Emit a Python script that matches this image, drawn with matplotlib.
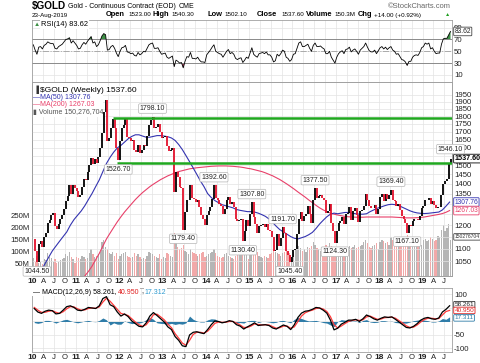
import numpy as np
import matplotlib
matplotlib.use("Agg")
import matplotlib.pyplot as plt
from matplotlib.patches import Rectangle
from matplotlib.ticker import NullLocator

plt.rcParams['font.family'] = ['Liberation Sans', 'DejaVu Sans']

# semi-monthly closes, Jan 2010 .. 23-Aug-2019 (two per month)
close = [
    1138, 1090, 1044.5, 1120, 1130, 1105, 1150, 1165, 1210, 1225, 1245, 1255,
    1195, 1185, 1205, 1230, 1245, 1275, 1315, 1340, 1395, 1350, 1395, 1380,   # 2010
    1365, 1335, 1345, 1385, 1425, 1420, 1465, 1500, 1540, 1505, 1535, 1510,
    1545, 1600, 1690, 1830, 1910, 1640, 1660, 1725, 1785, 1720, 1600, 1526.7,  # 2011
    1640, 1720, 1740, 1785, 1665, 1660, 1640, 1650, 1590, 1575, 1620, 1570,
    1590, 1620, 1610, 1670, 1740, 1775, 1798.1, 1720, 1730, 1750, 1700, 1660,  # 2012
    1665, 1670, 1610, 1580, 1590, 1600, 1360, 1465, 1435, 1385, 1380, 1179.4,
    1260, 1320, 1320, 1395, 1330, 1325, 1310, 1320, 1285, 1245, 1230, 1200,   # 2013
    1245, 1265, 1285, 1325, 1392.6, 1330, 1320, 1300, 1290, 1250, 1275, 1320,
    1335, 1300, 1310, 1285, 1230, 1220, 1225, 1230, 1130.4, 1175, 1225, 1195,  # 2014
    1250, 1307.8, 1235, 1205, 1165, 1195, 1200, 1205, 1190, 1205, 1180, 1175,
    1150, 1090, 1095, 1160, 1110, 1145, 1191.7, 1165, 1090, 1075, 1045.4, 1065,  # 2015
    1095, 1100, 1160, 1230, 1260, 1220, 1240, 1250, 1290, 1250, 1210, 1320,
    1377.5, 1330, 1340, 1345, 1330, 1320, 1255, 1265, 1300, 1210, 1175, 1124.3,  # 2016
    1175, 1210, 1220, 1235, 1205, 1250, 1255, 1285, 1225, 1265, 1280, 1245,
    1215, 1265, 1270, 1290, 1350, 1320, 1290, 1280, 1280, 1295, 1250, 1275,   # 2017
    1335, 1350, 1315, 1350, 1325, 1345, 1369.4, 1320, 1315, 1290, 1300, 1270,
    1240, 1230, 1210, 1167.1, 1200, 1195, 1220, 1230, 1230, 1225, 1240, 1280,  # 2018
    1290, 1320, 1320, 1330, 1300, 1315, 1295, 1280, 1285, 1285, 1345, 1400,
    1415, 1425, 1510, 1537.6,                                                # 2019
]

volume = [
    75, 60, 85, 55, 60, 50, 70, 65, 95, 80, 75, 60, 70, 55, 60, 65, 70, 75, 90, 85, 100, 80, 70, 55,
    80, 75, 70, 85, 80, 70, 75, 95, 110, 90, 80, 85, 90, 100, 140, 150, 120, 110, 95, 90, 100, 85, 95, 70,
    85, 90, 95, 100, 85, 80, 75, 80, 95, 85, 90, 80, 70, 75, 70, 85, 100, 95, 90, 85, 80, 75, 90, 70,
    80, 75, 95, 90, 85, 80, 180, 140, 120, 110, 115, 130, 105, 100, 90, 110, 100, 95, 90, 85, 90, 95, 100, 80,
    85, 90, 95, 100, 110, 95, 85, 80, 75, 80, 90, 95, 85, 80, 75, 70, 85, 90, 95, 100, 115, 105, 95, 70,
    100, 110, 95, 90, 100, 85, 80, 75, 85, 80, 75, 90, 95, 110, 100, 95, 90, 85, 95, 100, 110, 105, 95, 80,
    100, 110, 130, 125, 115, 105, 110, 100, 120, 115, 125, 140, 130, 115, 110, 105, 100, 110, 130, 115, 135, 125, 120, 100,
    110, 115, 120, 105, 115, 110, 120, 125, 115, 120, 130, 115, 120, 125, 130, 140, 150, 135, 120, 115, 125, 130, 135, 110,
    140, 150, 145, 135, 140, 130, 160, 150, 140, 135, 145, 150, 140, 135, 150, 170, 155, 145, 150, 160, 145, 150, 155, 130,
    150, 155, 145, 150, 160, 155, 145, 150, 165, 160, 190, 210, 185, 200, 215, 150.3,
]

rsi = [
    61, 52, 45, 57, 58, 54, 60, 62, 66, 64, 63, 63, 55, 54, 58, 60, 62, 66, 70, 71, 73, 64, 68, 64,
    60, 54, 55, 61, 65, 62, 67, 71, 75, 64, 66, 58, 61, 68, 76, 80, 78, 52, 53, 58, 60, 55, 47, 41,
    50, 56, 57, 60, 49, 48, 46, 47, 43, 42, 48, 44, 46, 50, 49, 55, 61, 63, 64, 55, 55, 56, 50, 45,
    46, 47, 40, 38, 40, 42, 24, 35, 33, 30, 31, 22, 33, 41, 40, 48, 38, 38, 37, 40, 35, 32, 32, 31,
    44, 48, 52, 57, 61, 50, 48, 46, 45, 40, 45, 50, 53, 46, 48, 45, 38, 36, 38, 39, 31, 35, 40, 38,
    47, 56, 45, 42, 40, 46, 47, 48, 46, 49, 44, 44, 40, 32, 34, 45, 42, 46, 52, 50, 40, 38, 33, 36,
    45, 46, 55, 64, 66, 58, 58, 60, 62, 55, 50, 60, 64, 58, 58, 59, 56, 54, 46, 46, 50, 40, 35, 30,
    40, 46, 49, 51, 46, 53, 54, 57, 49, 52, 54, 50, 45, 52, 55, 58, 64, 57, 51, 49, 49, 52, 46, 51,
    56, 58, 54, 57, 53, 56, 58, 52, 50, 45, 46, 41, 36, 35, 32, 26, 33, 33, 40, 43, 44, 43, 48, 56,
    58, 64, 62, 64, 54, 56, 50, 46, 47, 47, 62, 71, 72, 72, 78, 83.62,
]

# monthly moving averages (MA200 starts Mar 2011)
ma50 = [
    985, 995, 1015, 1040, 1065, 1090, 1110, 1130, 1150, 1170, 1200, 1225,
    1245, 1265, 1290, 1320, 1350, 1385, 1420, 1465, 1510, 1545, 1575, 1600,
    1615, 1635, 1655, 1670, 1680, 1680, 1672, 1665, 1665, 1670, 1675, 1675,
    1672, 1668, 1660, 1645, 1620, 1590, 1555, 1520, 1485, 1450, 1415, 1385,
    1350, 1330, 1315, 1305, 1295, 1290, 1285, 1280, 1272, 1268, 1265, 1262,
    1262, 1260, 1255, 1248, 1240, 1228, 1212, 1195, 1180, 1170, 1160, 1150,
    1143, 1140, 1145, 1150, 1158, 1168, 1185, 1205, 1222, 1238, 1250, 1255,
    1252, 1255, 1258, 1258, 1255, 1252, 1250, 1250, 1252, 1262, 1270, 1278,
    1284, 1290, 1295, 1297, 1295, 1290, 1282, 1274, 1266, 1260, 1256, 1254,
    1253, 1254, 1256, 1258, 1260, 1270, 1288, 1307.76,
]
ma200 = [
    993, 1010, 1030, 1055, 1080, 1110, 1140, 1165, 1190, 1215,
    1238, 1260, 1280, 1300, 1320, 1338, 1355, 1370, 1385, 1398, 1410, 1422,
    1432, 1442, 1450, 1458, 1465, 1470, 1475, 1480, 1483, 1486, 1488, 1490,
    1492, 1494, 1495, 1496, 1496, 1496, 1495, 1494, 1492, 1490, 1487, 1483,
    1480, 1475, 1470, 1465, 1458, 1450, 1442, 1432, 1422, 1410, 1398, 1385,
    1372, 1358, 1345, 1332, 1318, 1305, 1292, 1280, 1270, 1262, 1255, 1250,
    1246, 1243, 1240, 1238, 1237, 1236, 1236, 1236, 1237, 1237, 1237, 1237,
    1237, 1237, 1237, 1237, 1236, 1235, 1234, 1233, 1233, 1233, 1234, 1235,
    1237, 1240, 1243, 1246, 1249, 1253, 1259, 1267.03,
]
ma200_start = 14  # month index of Mar 2011

macd = [
    48, 35, 30, 38, 42, 40, 28, 30, 42, 55, 58, 52,
    42, 40, 45, 52, 50, 48, 58, 85, 92, 62, 55, 35,
    20, 28, 18, 2, -8, -18, -20, -5, 20, 33, 22, 10,
    -2, -20, -30, -56, -70, -90, -93, -50, -40, -38, -42, -45,
    -30, -12, 2, 0, -5, -2, 3, 0, -12, -17, -28, -20,
    -13, -5, -15, -13, -12, -15, -24, -28, -20, -13, -18, -30,
    -12, 15, 31, 38, 40, 45, 52, 50, 42, 31, 5, -31,
    -25, -10, -3, 5, 5, 8, 0, 10, 24, 18, 10, 5,
    12, 17, 15, 17, 8, -2, -12, -22, -24, -18, -8, 5,
    12, 15, 10, 8, 13, 35, 45, 58.261,
]
signal = [
    52, 42, 34, 34, 38, 40, 34, 30, 36, 47, 55, 54,
    47, 42, 43, 48, 50, 49, 54, 72, 86, 75, 60, 45,
    30, 26, 22, 10, -2, -12, -18, -12, 5, 25, 27, 17,
    6, -10, -23, -45, -62, -80, -88, -70, -48, -40, -40, -43,
    -36, -22, -7, -2, -3, -3, 0, 0, -6, -13, -22, -22,
    -17, -9, -11, -13, -12, -13, -19, -25, -23, -17, -17, -25,
    -20, 0, 20, 32, 38, 42, 48, 50, 46, 37, 18, -12,
    -24, -17, -8, 0, 4, 6, 4, 6, 17, 20, 14, 8,
    9, 14, 15, 16, 12, 3, -6, -16, -22, -21, -13, -2,
    7, 12, 12, 10, 11, 24, 37, 40.950,
]

# labelled swing highs / lows (index into close)
ann_idx = [2, 47, 66, 83, 100, 116, 121, 138, 142, 156, 167, 198, 207, 231]
ann_val = [1044.5, 1526.7, 1798.1, 1179.4, 1392.6, 1130.4, 1307.8, 1191.7,
           1045.4, 1377.5, 1124.3, 1369.4, 1167.1, 1546.1]
ann_side = ['lo', 'lo', 'hi', 'lo', 'hi', 'lo', 'hi', 'hi', 'lo', 'hi', 'lo', 'hi', 'lo', 'hi']

green_levels = [1790, 1512]
green_start = [2011.85, 2011.96]

price_ticks = list(range(1050, 2000, 50))
price_hidden = [1150, 1250, 1300, 1550]   # covered by the value boxes
vol_ticks = [50, 100, 150, 200, 250]
rsi_ticks = [10, 30, 50, 70, 90]
macd_ticks = [-100, -50, 0, 50, 100]
macd_hidden = [0, 50]

# ---------------------------------------------------------------
W, H = 480, 363
fig = plt.figure(figsize=(4.8, 3.63), dpi=100)


def rect(x0, y0, x1, y1):
    return [x0 / W, 1 - y1 / H, (x1 - x0) / W, (y1 - y0) / H]


def px(x):
    return x / W


def py(y):
    return 1 - y / H


close_a = np.array(close)
t = 2010 + (np.arange(len(close)) + 0.5) / 24
tm = 2010 + (np.arange(len(ma50)) + 0.5) / 12
tm200 = 2010 + (np.arange(len(ma200)) + ma200_start + 0.5) / 12
prev = np.r_[close_a[0], close_a[:-1]]
up = close_a >= prev
XL = (2009.99, 2019.68)
quarters = 2010 + np.arange(0, 39) * 0.25
qlabels = [str(10 + k // 4) if k % 4 == 0 else "AJO"[k % 4 - 1] for k in range(39)]

RED = '#e3122d'
BLUE = '#3333b0'
MARED = '#e8406a'
GRID = '#e3e3e3'
SPINE = '#a0a0a0'


def style(ax):
    for s in ax.spines.values():
        s.set_color(SPINE)
        s.set_linewidth(0.6)
    ax.set_xlim(*XL)
    ax.set_xticks(quarters)
    ax.tick_params(length=0, labelsize=5.6, colors='#222222', pad=1.5)
    ax.grid(axis='x', color=GRID, lw=0.5)
    ax.set_axisbelow(True)


def xlabels(ax):
    ax.set_xticklabels(qlabels)
    for k, lab in enumerate(ax.get_xticklabels()):
        if k % 4 == 0:
            lab.set_fontweight('bold')
            lab.set_fontsize(6)


def side_box(ax, val, text, color, ec, weight='normal', size=5.0):
    ax.annotate(text, xy=(1.0, val), xycoords=('axes fraction', 'data'),
                xytext=(2.5, 0), textcoords='offset pixels', ha='left', va='center',
                fontsize=size, color=color, weight=weight,
                bbox=dict(boxstyle='round,pad=0.12', fc='white', ec=ec, lw=0.6),
                annotation_clip=False, zorder=6)


# ---------------- RSI panel ----------------
ax_rsi = fig.add_axes(rect(32, 20, 452, 82))
style(ax_rsi)
ax_rsi.set_xticklabels([])
rsi_a = np.array(rsi)
ax_rsi.set_ylim(-2, 103)
ax_rsi.yaxis.tick_right()
ax_rsi.set_yticks(rsi_ticks)
ax_rsi.grid(axis='y', color=GRID, lw=0.5)
ax_rsi.axhline(70, color='#8a8a8a', lw=0.7)
ax_rsi.axhline(30, color='#8a8a8a', lw=0.7)
ax_rsi.axhline(50, color='#aaaaaa', lw=0.7, ls='-.')
ax_rsi.fill_between(t, rsi_a, 70, where=rsi_a > 70, interpolate=True, color='#3d8f45', lw=0)
ax_rsi.fill_between(t, rsi_a, 30, where=rsi_a < 30, interpolate=True, color='#b03a5b', lw=0)
ax_rsi.plot(t, rsi_a, color='black', lw=0.6)
side_box(ax_rsi, rsi[-1], f"{rsi[-1]:.2f}", '#222222', '#444444', size=4.8)

# ---------------- price / volume panel ----------------
ax_vol = fig.add_axes(rect(32, 82, 452, 276))
style(ax_vol)
xlabels(ax_vol)
vol_colors = np.where(up, '#b5b5b5', '#f2a9a9')
ax_vol.bar(t, volume, width=0.7 / 24, color=vol_colors, lw=0)
ax_vol.set_ylim(0, 805)
ax_vol.set_yticks(vol_ticks)
ax_vol.set_yticklabels([f"{v}M" for v in vol_ticks])

ax_px = ax_vol.twinx()
ax_px.set_yscale('log')
ax_px.set_ylim(993, 2045)
ax_px.set_xlim(*XL)
ax_px.yaxis.set_minor_locator(NullLocator())
ax_px.set_yticks(price_ticks)
ax_px.set_yticklabels(['' if v in price_hidden else str(v) for v in price_ticks])
ax_px.tick_params(length=0, labelsize=5.6, colors='#222222', pad=1.5)
for s in ax_px.spines.values():
    s.set_color(SPINE)
    s.set_linewidth(0.6)
ax_px.grid(axis='y', color=GRID, lw=0.5)
ax_px.set_axisbelow(True)

ax_px.plot(tm200, ma200, color=MARED, lw=0.8, zorder=3)
ax_px.plot(tm, ma50, color=BLUE, lw=0.8, zorder=3)
ax_px.vlines(t[up], prev[up], close_a[up], color='black', lw=1.3, zorder=4)
ax_px.vlines(t[~up], prev[~up], close_a[~up], color=RED, lw=1.3, zorder=4)
ax_px.hlines(green_levels, green_start, XL[1], colors='#1fa81f', lw=1.8, zorder=5)

for i, v, side in zip(ann_idx, ann_val, ann_side):
    off = 8 if side == 'hi' else -9
    ax_px.annotate(f"{v:.2f}", (t[i], v), xytext=(0, off), textcoords='offset pixels',
                   ha='center', va='center', fontsize=5, color='#222222', zorder=7,
                   bbox=dict(boxstyle='round,pad=0.18', fc='white', ec='#b5b5b5', lw=0.5),
                   annotation_clip=False)

side_box(ax_px, close[-1], f"{close[-1]:.2f}", 'black', 'black', weight='bold', size=5.1)
side_box(ax_px, ma50[-1], f"{ma50[-1]:.2f}", BLUE, BLUE, size=4.8)
side_box(ax_px, ma200[-1], f"{ma200[-1]:.2f}", MARED, MARED, size=4.8)
ax_vol.annotate("150276704", xy=(1.0, volume[-1] * 1.08), xycoords=('axes fraction', 'data'),
                xytext=(2.5, 0), textcoords='offset pixels', ha='left', va='center',
                fontsize=3.6, color='#333333', annotation_clip=False, zorder=6,
                bbox=dict(boxstyle='round,pad=0.15', fc='white', ec='#444444', lw=0.6))

# ---------------- MACD panel ----------------
ax_macd = fig.add_axes(rect(32, 288, 452, 352))
style(ax_macd)
xlabels(ax_macd)
macd_a = np.array(macd)
sig_a = np.array(signal)
ax_macd.set_ylim(-113, 124)
ax_macd.yaxis.tick_right()
ax_macd.set_yticks(macd_ticks)
ax_macd.set_yticklabels(['' if v in macd_hidden else str(v) for v in macd_ticks])
ax_macd.grid(axis='y', color=GRID, lw=0.5)
ax_macd.fill_between(tm, macd_a - sig_a, 0, color='#2e7ca8', lw=0)
ax_macd.plot(tm, sig_a, color='#ff3b3b', lw=0.9)
ax_macd.plot(tm, macd_a, color='black', lw=0.9)
side_box(ax_macd, macd[-1] + 4, f"{macd[-1]:.3f}", '#222222', '#333333', size=4.6)
side_box(ax_macd, signal[-1], f"{signal[-1]:.3f}", '#e02020', '#e02020', size=4.6)
side_box(ax_macd, macd[-1] - signal[-1] - 4, f"{macd[-1] - signal[-1]:.3f}", '#2e7ca8', '#2e7ca8', size=4.6)

# ---------------- header and legends ----------------
fig.canvas.draw()
rend = fig.canvas.get_renderer()


def row(items, y, gap=2, **common):
    # place texts left to right, never letting one run into the next
    right = 0
    for x, s, kw in items:
        opts = dict(common)
        opts.update(kw)
        tx = fig.text(px(max(x, right + gap)), py(y), s, va='center', **opts)
        right = tx.get_window_extent(rend).x1


B = {'weight': 'bold', 'fontsize': 5.4}
N = {'fontsize': 4.5}
row([(32, "$GOLD", {'weight': 'bold', 'fontsize': 7.2}),
     (64, "Gold - Continuous Contract (EOD)", {'fontsize': 5.0}),
     (179, "CME", {'fontsize': 5.0})], 6.5)
fig.text(px(451), py(6), "\u00a9StockCharts.com", fontsize=5.4, color='#666666', ha='right', va='center')

row([(32, "23-Aug-2019", N), (106, "Open", B), (128, "1523.00", N),
     (149, "High", B), (167, "1540.30", N), (207, "Low", B),
     (223, "1502.10", N), (257, "Close", B), (281, "1537.60", N),
     (303, "Volume", B), (334, "150.3M", N), (355, "Chg", B),
     (372, "+14.00 (+0.92%)", N), (445, "\u25b2", {'fontsize': 3.8, 'color': '#1f9e1f'})], 15)

row([(34, "\u25b2", {'fontsize': 4.5, 'color': '#3d8f45'}),
     (40, "RSI(14) 83.62", {'fontsize': 5.4,
                            'bbox': dict(boxstyle='square,pad=0.1', fc='white', ec='none')})], 24.5, gap=1)

fig.add_artist(Rectangle((px(32.5), py(117)), (103 - 32.5) / W, 34 / H,
                         transform=fig.transFigure, fc='white', ec='none', zorder=1))
row([(33.5, "\u2590", {'fontsize': 5, 'color': '#333333'}),
     (39, "$GOLD (Weekly) 1537.60", {'fontsize': 6,
                                     'bbox': dict(boxstyle='square,pad=0.1', fc='white', ec='none')})], 90, gap=1)
fig.text(px(33), py(97.5), "\u2014MA(50) 1307.76", fontsize=5, color=BLUE, va='center')
fig.text(px(33), py(105), "\u2014MA(200) 1267.03", fontsize=5, color=MARED, va='center')
fig.text(px(33), py(112.5), "\u25ae Volume 150,276,704", fontsize=5, color='#555555', va='center')

wb = dict(boxstyle='square,pad=0.1', fc='white', ec='none')
row([(33, "\u2014 MACD(12,26,9) 58.261,", {'bbox': wb}),
     (0, "40.950", {'color': '#e02020', 'bbox': wb}),
     (0, ",", {}),
     (0, "17.312", {'color': '#2e9bd0', 'bbox': wb})], 292, gap=1.5, fontsize=5.0)

fig.savefig("out.png", dpi=100)
